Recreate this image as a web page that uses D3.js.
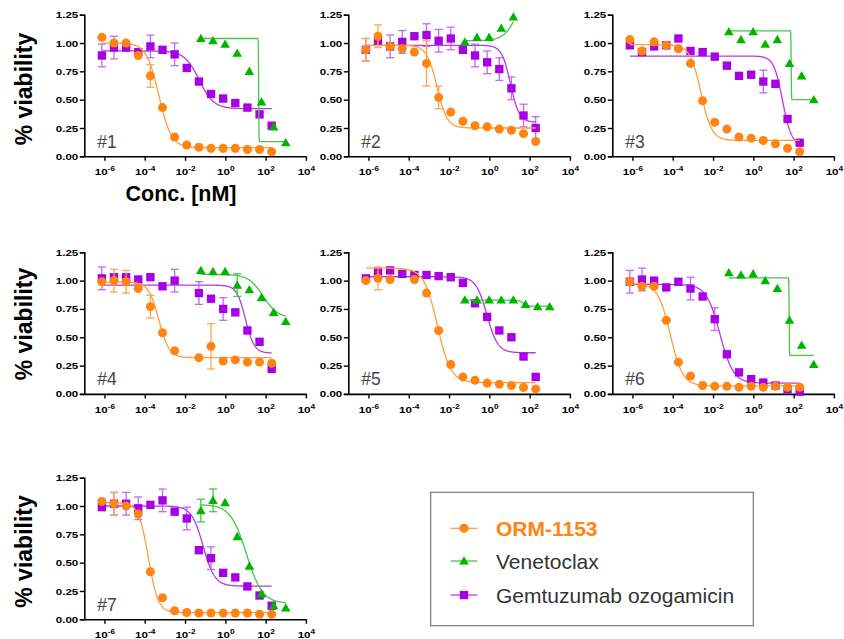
<!DOCTYPE html>
<html><head><meta charset="utf-8">
<script src="https://cdn.jsdelivr.net/npm/d3@7"></script>
<style>
body{margin:0;background:#fff}
svg{display:block}
text{font-family:"Liberation Sans",Arial,Helvetica,sans-serif}
</style>
</head><body>
<svg id="chart" width="844" height="639"></svg>
<script>
// ---------------- DATA ----------------
const panelNames = ["#1","#2","#3","#4","#5","#6","#7"];
const seriesNames = ["ORM-1153","Venetoclax","Gemtuzumab ozogamicin"];
const concORM = [7.45e-7,2.98e-6,1.19e-5,4.77e-5,1.91e-4,7.63e-4,3.05e-3,0.0122,0.0488,0.195,0.781,3.13,12.5,50,200];
const concGO  = [7.45e-7,2.98e-6,1.19e-5,4.77e-5,1.91e-4,7.63e-4,3.05e-3,0.0122,0.0488,0.195,0.781,3.13,12.5,50,200];
const concVEN = [0.061,0.244,0.977,3.91,15.6,62.5,250,1000];
const xTickExps = [-6,-4,-2,0,2,4];
const yTicks = [0,0.25,0.5,0.75,1.0,1.25];

const ormViab = [
 [1.05,1.00,1.00,0.89,0.71,0.43,0.17,0.10,0.08,0.07,0.07,0.07,0.06,0.06,0.04],
 [0.94,1.06,0.97,0.95,0.92,0.82,0.52,0.39,0.31,0.27,0.26,0.24,0.23,0.20,0.13],
 [1.03,0.93,1.01,0.98,0.95,0.82,0.49,0.30,0.24,0.17,0.16,0.14,0.11,0.07,0.04],
 [0.99,1.00,0.99,0.93,0.77,0.54,0.38,null,0.32,0.42,0.29,0.30,0.28,0.28,0.27],
 [1.00,1.02,1.01,null,1.01,0.89,0.56,0.26,0.15,0.12,0.095,0.086,0.074,0.056,0.044],
 [0.99,0.95,0.95,0.65,0.28,0.157,0.074,0.068,0.068,0.059,0.068,0.059,0.068,0.059,0.059],
 [1.04,1.02,1.00,0.93,0.42,0.19,0.076,0.06,0.056,0.056,0.056,0.056,0.056,0.044,0.044]
];
const ormErr = [
 [0,0,0,0,0.10,0,0,0,0,0,0,0,0,0,0],
 [0.10,0.10,0,0,0,0.20,0.10,0,0,0,0,0,0,0,0],
 [0,0,0,0,0,0,0,0,0,0,0,0,0,0,0],
 [0,0.10,0.10,0,0.10,0,0,0,0,0.20,0,0,0,0,0],
 [0,0.10,0,0,0,0,0,0,0,0,0,0,0,0,0],
 [0,0,0,0,0,0,0,0,0,0,0,0,0,0,0],
 [0,0.10,0,0,0,0,0,0,0,0,0,0,0,0,0]
];
const gemViab = [
 [0.89,0.96,0.96,0.92,0.97,0.94,0.90,0.78,0.66,0.55,0.51,0.47,0.43,0.37,0.27],
 [0.94,1.01,0.97,1.01,1.06,1.07,1.02,1.04,0.94,0.89,0.83,0.77,0.60,0.36,0.25],
 [0.98,0.92,0.97,0.98,1.04,0.93,0.92,0.88,0.80,0.71,0.72,0.66,0.64,0.33,0.12],
 [1.02,1.03,1.03,1.01,1.03,0.95,1.00,null,0.89,0.84,0.75,0.72,0.56,0.46,0.22],
 [1.02,1.08,1.09,1.06,1.05,1.05,1.04,1.03,0.98,0.80,0.68,0.56,0.50,0.33,0.15],
 [0.99,1.01,1.00,0.94,0.99,0.93,0.86,0.66,0.35,0.19,0.13,0.10,0.074,0.04,0.02],
 [0.99,1.02,1.02,0.98,1.01,1.05,0.95,0.89,0.61,0.54,0.41,0.37,0.29,0.21,0.12]
];
const gemErr = [
 [0.10,0.10,0,0,0.10,0,0.10,0,0,0,0,0,0,0,0],
 [0.10,0,0.10,0.10,0,0.10,0.10,0.10,0,0.10,0.10,0.10,0.10,0.10,0.10],
 [0,0,0,0,0,0,0,0,0,0,0,0.10,0,0,0],
 [0.10,0,0,0,0,0,0.10,0,0.10,0,0.10,0,0,0,0],
 [0,0,0,0,0,0,0,0,0,0,0,0,0,0,0],
 [0.10,0.10,0,0,0,0.10,0,0.10,0,0,0,0,0,0,0],
 [0,0.10,0.10,0.10,0,0.10,0,0.10,0,0.10,0,0,0,0,0]
];
const venViab = [
 [1.04,1.02,0.99,0.91,0.75,0.48,0.26,0.12],
 [1.01,1.05,1.05,1.13,1.23],
 [1.10,1.03,1.10,0.99,1.03,0.82,0.71,0.50],
 [1.09,1.08,1.08,0.96,0.92,0.85,0.72,0.64],
 [0.83,0.83,0.83,0.83,0.83,0.79,0.77,0.77],
 [1.07,1.05,1.06,1.00,0.93,0.65,0.43,0.26],
 [0.96,1.05,1.03,0.73,0.47,0.225,0.12,0.10]
];
const venErr = [
 [0,0,0,0,0,0,0,0],
 [0,0,0,0,0],
 [0,0,0,0,0,0,0,0],
 [0,0,0,0.10,0,0,0,0],
 [0,0,0,0,0,0,0,0],
 [0,0,0,0,0,0,0,0],
 [0.10,0.10,0,0,0,0,0,0]
];
// fitted 4-parameter logistic curves: [top, bottom, logEC50, hillSlope]
const ormFit = [[1.0,0.077,-3.3,1.4],[0.98,0.25,-2.6,1.7],[0.985,0.14,-2.6,1.6],[0.987,0.32,-3.3,1.7],[1.11,0.10,-2.58,1.3],[0.975,0.071,-4.12,1.4],[1.03,0.059,-3.82,1.8]];
const gemFit = [[0.93,0.42,-1.3,1.2],[0.98,0.30,1.05,2.0],[0.885,0.10,1.45,2.0],[0.96,0.36,1.0,2.0],[1.034,0.363,-0.12,1.6],[0.966,0.095,-1.66,1.3],[1.0,0.293,-1.1,1.5]];
const venFit = [[1.04,0.13,1.655,60],[1.02,1.5,1.4,1.3],[1.108,0.50,1.88,60],[1.055,0.67,1.88,1.2],[0.827,0.774,1.69,4],[1.025,0.34,1.78,60],[1.013,0.14,1.05,1.1]];

// ---------------- STYLE / LAYOUT ----------------
const colORM = {pt:"#ff8412", line:"#ff9d3d", err:"#ffa54f"};
const colVEN = {pt:"#00b400", line:"#45c845", err:"#45c845"};
const colGEM = {pt:"#a800e4", line:"#b43ae8", err:"#c468ef"};
const colX = [84.3, 348.3, 612.3];
const rowTop = [14.7, 252.3, 477.7];
const plotW = 221.6, plotH = 141.6;
const stretch = 1.22;   // tick labels in the reference are horizontally wide

const svg = d3.select("#chart");

function logistic(p, lx){ return p[1] + (p[0]-p[1])/(1+Math.pow(10, p[3]*(lx-p[2]))); }

panelNames.forEach((name, i) => {
  const col = i % 3, row = Math.floor(i/3);
  const g = svg.append("g").attr("transform", `translate(${colX[col]},${rowTop[row]})`);
  const x = d3.scaleLog().domain([1e-7, 1e4]).range([0, plotW]);
  const y = d3.scaleLinear().domain([0, 1.25]).range([plotH, 0]);

  // axes
  const yAx = g.append("g").call(d3.axisLeft(y).tickValues(yTicks).tickFormat(d3.format(".2f")).tickSize(4.5).tickPadding(1.5));
  yAx.select(".domain").attr("stroke","#000").attr("stroke-width",1.6);
  yAx.selectAll(".tick line").attr("stroke","#000").attr("stroke-width",1.4);
  yAx.selectAll(".tick text").attr("font-size",9.5).attr("font-weight","bold").attr("fill","#000")
     .attr("font-family",'"Liberation Sans",Arial,sans-serif')
     .attr("x", -6/stretch).attr("transform",`scale(${stretch},1)`);

  const xAx = g.append("g").attr("transform",`translate(0,${plotH})`)
     .call(d3.axisBottom(x).tickValues(xTickExps.map(e=>Math.pow(10,e))).tickFormat("").tickSize(4.5).tickSizeOuter(0));
  xAx.select(".domain").attr("stroke","#000").attr("stroke-width",1.6);
  xAx.selectAll(".tick line").attr("stroke","#000").attr("stroke-width",1.4);
  xAx.selectAll(".tick").each(function(d, k){
    const t = d3.select(this).append("text").attr("y",19).attr("text-anchor","middle")
      .attr("transform",`scale(${stretch},1)`)
      .attr("font-size",9.5).attr("font-weight","bold").attr("fill","#000")
      .attr("font-family",'"Liberation Sans",Arial,sans-serif');
    t.append("tspan").text("10");
    t.append("tspan").attr("dy",-4).attr("font-size",6.8).text(String(xTickExps[k]));
  });

  // panel label
  g.append("text").attr("x",13).attr("y",plotH-8.5).attr("font-size",17.5).attr("fill","#454545").text(name);

  const line = d3.line().x(d=>x(Math.pow(10,d[0]))).y(d=>y(d[1]));

  function drawSeries(conc, vals, errs, fit, col, shape){
    const pts = conc.map((c,k)=>({c, v: vals[k], e: errs[k]})).filter(d=>d.v!==null && d.v!==undefined);
    const lx0 = Math.log10(conc[0]), lx1 = Math.log10(conc[vals.length-1]);
    const n = 500;
    const curve = d3.range(n+1).map(k=>{ const lx = lx0 + (lx1-lx0)*k/n; return [lx, logistic(fit, lx)]; });
    g.append("path").attr("d", line(curve)).attr("fill","none").attr("stroke",col.line).attr("stroke-width",1.3);
    // error bars
    pts.filter(d=>d.e>0).forEach(d=>{
      const cx = x(d.c);
      const eg = g.append("g").attr("stroke",col.err).attr("stroke-width",1.3);
      eg.append("line").attr("x1",cx).attr("x2",cx).attr("y1",y(d.v+d.e)).attr("y2",y(d.v-d.e));
      eg.append("line").attr("x1",cx-4).attr("x2",cx+4).attr("y1",y(d.v+d.e)).attr("y2",y(d.v+d.e));
      eg.append("line").attr("x1",cx-4).attr("x2",cx+4).attr("y1",y(d.v-d.e)).attr("y2",y(d.v-d.e));
    });
    const sym = d3.symbol().type(shape).size(shape===d3.symbolTriangle?40:(shape===d3.symbolSquare?70:64));
    g.selectAll(null).data(pts).enter().append("path")
      .attr("d", sym)
      .attr("transform", d=>`translate(${x(d.c)},${y(d.v) + (shape===d3.symbolTriangle?0.8:0)})`)
      .attr("fill", col.pt);
  }
  drawSeries(concGO, gemViab[i], gemErr[i], gemFit[i], colGEM, d3.symbolSquare);
  drawSeries(concVEN.slice(0, venViab[i].length), venViab[i], venErr[i], venFit[i], colVEN, d3.symbolTriangle);
  drawSeries(concORM, ormViab[i], ormErr[i], ormFit[i], colORM, d3.symbolCircle);
});

// axis titles
[89, 324, 551.5].forEach(cy=>{
  svg.append("text").attr("transform",`translate(32,${cy}) rotate(-90)`).attr("text-anchor","middle")
    .attr("font-size",23).attr("font-weight","bold").attr("fill","#000").text("% viability");
});
svg.append("text").attr("x",181).attr("y",201).attr("text-anchor","middle")
  .attr("font-size",21.5).attr("font-weight","bold").attr("fill","#000").text("Conc. [nM]");

// legend
const leg = svg.append("g");
leg.append("rect").attr("x",430.7).attr("y",492.3).attr("width",322.6).attr("height",133.4)
  .attr("fill","none").attr("stroke","#7a7a7a").attr("stroke-width",1.2);
const legCols = [colORM, colVEN, colGEM];
const legShapes = [d3.symbolCircle, d3.symbolTriangle, d3.symbolSquare];
const legY = [528.3, 561, 595];
seriesNames.forEach((s,k)=>{
  const cy = legY[k];
  leg.append("line").attr("x1",450.7).attr("x2",477.3).attr("y1",cy).attr("y2",cy)
    .attr("stroke",legCols[k].line).attr("stroke-width",1.3);
  const sz = legShapes[k]===d3.symbolTriangle?40:(legShapes[k]===d3.symbolSquare?70:64);
  leg.append("path").attr("d", d3.symbol().type(legShapes[k]).size(sz))
    .attr("transform",`translate(464,${cy + (k===1?0.8:0)})`).attr("fill",legCols[k].pt);
  leg.append("text").attr("x",496).attr("y",cy+7.5).attr("font-size",21)
    .attr("font-weight", k===0?"bold":"normal").attr("fill", k===0?colORM.pt:"#333").text(s);
});
</script>
</body></html>
